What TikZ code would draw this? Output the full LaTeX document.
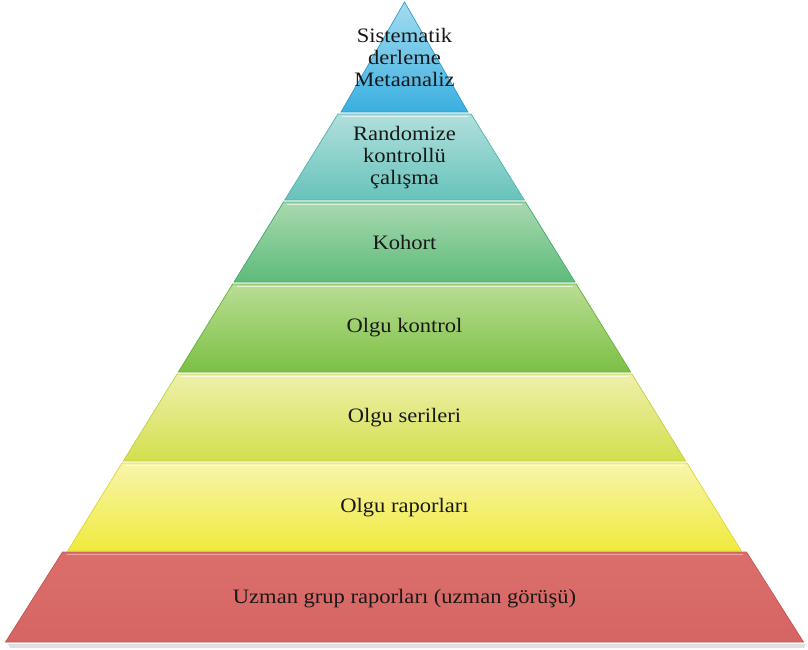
\documentclass[tikz,border=0pt]{standalone}
\usepackage{fontspec}
\setmainfont{Liberation Serif}[FakeStretch=1.1]
\begin{document}
\begin{tikzpicture}[x=1pt,y=-1pt,
  lbl/.style={font=\fontsize{20.5}{22}\selectfont, align=center, text=black!90, inner sep=0pt},
  bandedge/.style={line width=0.7pt},
  hilite/.style={white, opacity=0.65, line width=1.6pt}]
\definecolor{bAt}{HTML}{A4DCF0}\definecolor{bAb}{HTML}{3AAFE0}\definecolor{bAe}{HTML}{2E9CCB}
\definecolor{bBt}{HTML}{B2DFDC}\definecolor{bBb}{HTML}{66C3BB}\definecolor{bBe}{HTML}{4DB3AA}
\definecolor{bCt}{HTML}{A9D9AF}\definecolor{bCb}{HTML}{5DBB7B}\definecolor{bCe}{HTML}{3FAA66}
\definecolor{bDt}{HTML}{BADD94}\definecolor{bDb}{HTML}{7CC044}\definecolor{bDe}{HTML}{63B03A}
\definecolor{bEt}{HTML}{EEF0AA}\definecolor{bEb}{HTML}{D2E04E}\definecolor{bEe}{HTML}{BFCF40}
\definecolor{bFt}{HTML}{F8F5AC}\definecolor{bFb}{HTML}{EFEA3C}\definecolor{bFe}{HTML}{DCD636}
\definecolor{bGt}{HTML}{DB6E6B}\definecolor{bGb}{HTML}{D56562}\definecolor{bGe}{HTML}{C25654}
\useasboundingbox (0,0) rectangle (808,649);
% shadow under base
\fill[black, opacity=0.12] (8,644) -- (806,644) -- (804,648) -- (10,648) -- cycle;
% bands
\shade[top color=bAt, bottom color=bAb] (404.5,2) -- (468,112) -- (341,112) -- cycle;
\draw[bandedge, bAe] (404.5,2) -- (468,112) -- (341,112) -- cycle;
\shade[top color=bBt, bottom color=bBb] (337.9,114) -- (471.1,114) -- (524.3,200) -- (284.7,200) -- cycle;
\draw[bandedge, bBe] (337.9,114) -- (471.1,114) -- (524.3,200) -- (284.7,200) -- cycle;
\shade[top color=bCt, bottom color=bCb] (283.5,202) -- (525.5,202) -- (575,282) -- (234,282) -- cycle;
\draw[bandedge, bCe] (283.5,202) -- (525.5,202) -- (575,282) -- (234,282) -- cycle;
\shade[top color=bDt, bottom color=bDb] (232.7,284) -- (576.3,284) -- (630.7,372) -- (178.3,372) -- cycle;
\draw[bandedge, bDe] (232.7,284) -- (576.3,284) -- (630.7,372) -- (178.3,372) -- cycle;
\shade[top color=bEt, bottom color=bEb] (177.1,374) -- (631.9,374) -- (685.7,461) -- (123.3,461) -- cycle;
\draw[bandedge, bEe] (177.1,374) -- (631.9,374) -- (685.7,461) -- (123.3,461) -- cycle;
\shade[top color=bFt, bottom color=bFb] (122,463) -- (687,463) -- (741.4,551) -- (67.6,551) -- cycle;
\draw[bandedge, bFe] (122,463) -- (687,463) -- (741.4,551) -- (67.6,551) -- cycle;
\shade[top color=bGt, bottom color=bGb] (62.5,552) -- (746.5,552) -- (803.5,642) -- (5.5,642) -- cycle;
\draw[bandedge, bGe] (62.5,552) -- (746.5,552) -- (803.5,642) -- (5.5,642) -- cycle;
% top bevel highlights
\draw[hilite] (341.5,116.5) -- (467.5,116.5);
\draw[hilite] (287,204.5) -- (522,204.5);
\draw[hilite] (236.5,286.5) -- (572.5,286.5);
\draw[hilite] (181,376.5) -- (628,376.5);
\draw[hilite] (126,465.5) -- (683,465.5);
\draw[hilite, opacity=0.4] (66.5,554.5) -- (742.5,554.5);
% labels
\node[lbl] (tA) at (404.5,57) {Sistematik\\derleme\\Metaanaliz};
\node[lbl] (tB) at (404.5,158) {Randomize\\kontrollü\\çalışma};
\node[lbl] (tC) at (404.5,242) {Kohort};
\node[lbl] (tD) at (404.5,328) {Olgu kontrol};
\node[lbl] (tE) at (404.5,418) {Olgu serileri};
\node[lbl] (tF) at (404.5,508) {Olgu raporları};
\node[lbl] (tG) at (404.5,599) {Uzman grup raporları (uzman görüşü)};
\end{tikzpicture}
\end{document}
